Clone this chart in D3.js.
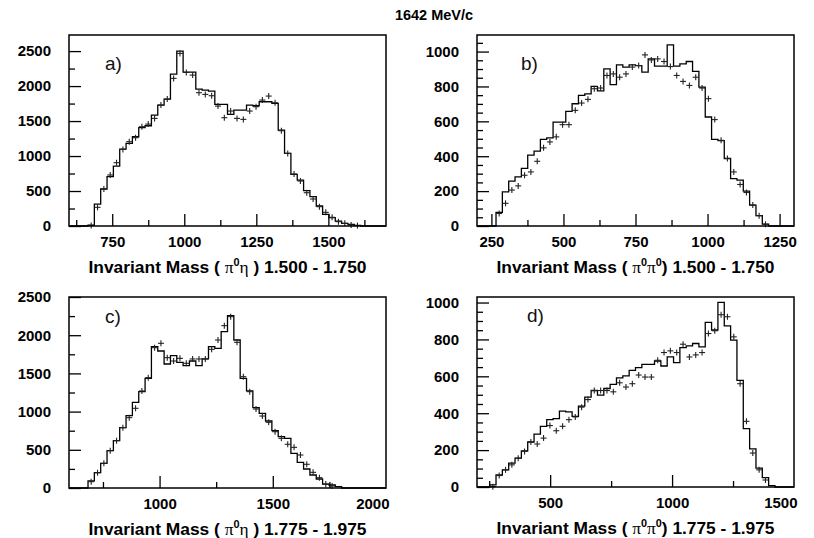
<!DOCTYPE html>
<html><head><meta charset="utf-8">
<script src="https://cdn.jsdelivr.net/npm/d3@7/dist/d3.min.js"></script>
<style>body{margin:0;background:#fff}svg{display:block}</style>
</head><body>
<svg id="chart" width="814" height="538"></svg>
<script>
// ---------- data ----------
const mainTitle = "1642 MeV/c";
const panelNames = ["a)", "b)", "c)", "d)"];
const titleRanges = ["1.500 - 1.750", "1.500 - 1.750", "1.775 - 1.975", "1.775 - 1.975"];
const titleParticles = [["π", "η"], ["π", "π"], ["π", "η"], ["π", "π"]];

const xDomainA = [600, 1700], xDomainB = [200, 1300], xDomainC = [600, 2000], xDomainD = [200, 1500];
const yMaxA = 2730, yMaxB = 1095, yMaxC = 2500, yMaxD = 1030;

const xLabelsA = [750, 1000, 1250, 1500];
const xLabelsB = [250, 500, 750, 1000, 1250];
const xLabelsC = [1000, 1500, 2000];
const xLabelsD = [500, 1000, 1500];
const xMinorA = [625, 875, 1125, 1375, 1625];
const xMinorB = [375, 625, 875, 1125];
const xMinorC = [750, 1250, 1750];
const xMinorD = [250, 750, 1250];

const yLabelsA = [0, 500, 1000, 1500, 2000, 2500];
const yLabelsB = [0, 200, 400, 600, 800, 1000];
const yLabelsC = [0, 500, 1000, 1500, 2000, 2500];
const yLabelsD = [0, 200, 400, 600, 800, 1000];
const yMinorStepA = 250, yMinorStepB = 50, yMinorStepC = 250, yMinorStepD = 50;

// histogram (simulation), 50 bins spanning the x range
const histA = [0,0,0,12,314,529,705,857,1100,1181,1276,1405,1433,1586,1729,1814,2171,2500,2200,2200,
  1957,1943,1928,1738,1738,1595,1657,1657,1729,1719,1776,1776,1752,1371,1038,738,657,505,419,286,
  167,119,71,38,24,10,0,0,0,0];
const dataA = [null,null,null,8,267,529,729,905,1095,1205,1262,1419,1457,1538,1729,1814,2110,2467,2195,2157,
  1905,1881,1862,1714,1548,1643,1538,1524,1643,1705,1800,1857,1762,1362,1038,743,643,476,386,276,
  195,124,62,38,14,6,null,null,null,null];

const histB = [0,0,0,78,196,257,282,330,406,429,497,505,596,596,657,701,749,758,800,775,
  901,810,924,911,924,920,882,958,916,916,1038,916,930,943,886,796,625,497,490,387,
  272,263,200,120,59,11,0,0,0,0];
const dataB = [null,null,null,72,130,206,230,291,310,371,448,482,511,581,581,663,705,726,787,791,
  863,872,853,872,911,920,981,952,958,943,914,863,829,806,853,791,730,610,491,387,
  310,238,192,120,59,10,null,null,null,null];

const histC = [0,0,0,92,200,323,489,620,790,947,1121,1261,1435,1850,1793,1623,1732,1645,1601,1662,
  1601,1689,1850,1828,2046,2256,1937,1435,1270,1051,977,877,750,672,650,454,336,249,170,118,
  52,39,17,0,0,0,0,0,0,0];
const dataC = [null,null,null,83,200,323,489,620,790,921,1043,1270,1444,1837,1894,1706,1662,1697,1632,1689,
  1689,1689,1815,1937,2125,2243,1907,1457,1261,1034,942,860,737,650,572,532,432,310,205,135,
  52,26,null,null,null,null,null,null,null,null];

const histD = [0,0,11,65,93,129,156,196,244,287,329,365,371,411,407,383,438,487,523,498,
  534,556,592,602,632,647,665,665,683,656,705,674,756,765,778,760,892,851,1001,874,
  796,578,316,207,102,51,7,0,0,0];
const dataD = [null,null,2,62,93,120,156,193,244,233,265,333,305,329,365,380,433,474,523,523,
  523,516,565,542,560,607,596,596,687,729,738,729,774,705,716,729,832,847,934,923,
  814,560,356,184,93,38,null,null,null,null];

// ---------- layout ----------
const panels = [
  {name: panelNames[0], hist: histA, data: dataA, xd: xDomainA, ymax: yMaxA, xl: xLabelsA, xm: xMinorA, yl: yLabelsA, ys: yMinorStepA,
   part: titleParticles[0], range: titleRanges[0], box: [69, 386, 35, 226], lab: [105, 70]},
  {name: panelNames[1], hist: histB, data: dataB, xd: xDomainB, ymax: yMaxB, xl: xLabelsB, xm: xMinorB, yl: yLabelsB, ys: yMinorStepB,
   part: titleParticles[1], range: titleRanges[1], box: [477, 794, 35, 226], lab: [521, 70]},
  {name: panelNames[2], hist: histC, data: dataC, xd: xDomainC, ymax: yMaxC, xl: xLabelsC, xm: xMinorC, yl: yLabelsC, ys: yMinorStepC,
   part: titleParticles[2], range: titleRanges[2], box: [69, 386, 297, 488], lab: [105, 323]},
  {name: panelNames[3], hist: histD, data: dataD, xd: xDomainD, ymax: yMaxD, xl: xLabelsD, xm: xMinorD, yl: yLabelsD, ys: yMinorStepD,
   part: titleParticles[3], range: titleRanges[3], box: [477, 794, 297, 487], lab: [527, 322]}
];

const svg = d3.select("#chart");
const FONT = "'Liberation Sans', Arial, Helvetica, sans-serif";

svg.append("text").attr("x", 434).attr("y", 20).attr("text-anchor", "middle")
  .attr("font-family", FONT).attr("font-weight", "bold").attr("font-size", 14.5)
  .text(mainTitle);

panels.forEach(p => {
  const [x0, x1, y0, y1] = p.box;
  const x = d3.scaleLinear().domain(p.xd).range([x0, x1]);
  const y = d3.scaleLinear().domain([0, p.ymax]).range([y1, y0]);
  const g = svg.append("g");
  const nb = p.hist.length;
  const bw = (p.xd[1] - p.xd[0]) / nb;

  // histogram step line
  const pts = [[p.xd[0], 0]];
  p.hist.forEach((v, i) => {
    const lo = p.xd[0] + i * bw;
    pts.push([lo, v], [lo + bw, v]);
  });
  pts.push([p.xd[1], 0]);
  g.append("path").datum(pts)
    .attr("d", d3.line().x(d => x(d[0])).y(d => y(d[1])))
    .attr("fill", "none").attr("stroke", "#000").attr("stroke-width", 1.3);

  // data crosses
  const dd = p.data.map((v, i) => ({c: p.xd[0] + (i + 0.5) * bw, v})).filter(d => d.v !== null);
  const cr = g.append("g").attr("stroke", "#222").attr("stroke-width", 1.1);
  cr.selectAll("line.h").data(dd).join("line").attr("class", "h")
    .attr("x1", d => x(d.c) - 3).attr("x2", d => x(d.c) + 3)
    .attr("y1", d => y(d.v)).attr("y2", d => y(d.v));
  cr.selectAll("line.v").data(dd).join("line").attr("class", "v")
    .attr("x1", d => x(d.c)).attr("x2", d => x(d.c))
    .attr("y1", d => y(d.v) - 3).attr("y2", d => y(d.v) + 3);

  // x axis ticks (inward) and labels
  const xAxisMajor = d3.axisBottom(x).tickValues(p.xl.filter(v => v < p.xd[1])).tickSizeInner(-12).tickSizeOuter(0).tickFormat("");
  const xAxisMinor = d3.axisBottom(x).tickValues(p.xm).tickSizeInner(-6).tickSizeOuter(0).tickFormat("");
  [xAxisMajor, xAxisMinor].forEach(ax => {
    const a = g.append("g").attr("transform", `translate(0,${y1})`).call(ax);
    a.select(".domain").remove();
    a.selectAll("line").attr("stroke", "#000").attr("stroke-width", 1.3);
  });
  const xt = g.append("g").attr("transform", `translate(0,${y1})`)
    .call(d3.axisBottom(x).tickValues(p.xl).tickSize(0).tickPadding(10).tickFormat(d3.format("d")));
  xt.select(".domain").remove();
  xt.selectAll("text").attr("font-family", FONT).attr("font-weight", "bold").attr("font-size", 15).attr("fill", "#000");
  // a label sitting on the right edge is pulled inside the frame
  xt.selectAll(".tick").filter(d => d === p.xd[1]).select("text").attr("text-anchor", "end").attr("dx", 3);

  // y axis ticks
  const yMinor = d3.range(0, p.ymax, p.ys).filter(v => !p.yl.includes(v));
  const yAxisMajor = d3.axisLeft(y).tickValues(p.yl).tickSizeInner(-12).tickSizeOuter(0).tickFormat("");
  const yAxisMinor = d3.axisLeft(y).tickValues(yMinor).tickSizeInner(-6).tickSizeOuter(0).tickFormat("");
  [yAxisMajor, yAxisMinor].forEach(ax => {
    const a = g.append("g").attr("transform", `translate(${x0},0)`).call(ax);
    a.select(".domain").remove();
    a.selectAll("line").attr("stroke", "#000").attr("stroke-width", 1.3);
  });
  const yt = g.append("g").attr("transform", `translate(${x0 - 18},0)`)
    .call(d3.axisLeft(y).tickValues(p.yl).tickSize(0).tickPadding(0).tickFormat(d3.format("d")));
  yt.select(".domain").remove();
  yt.selectAll("text").attr("font-family", FONT).attr("font-weight", "bold").attr("font-size", 15).attr("fill", "#000");

  // frame
  g.append("rect").attr("x", x0).attr("y", y0).attr("width", x1 - x0).attr("height", y1 - y0)
    .attr("fill", "none").attr("stroke", "#000").attr("stroke-width", 1.5);

  // panel label
  g.append("text").attr("x", p.lab[0]).attr("y", p.lab[1])
    .attr("font-family", FONT).attr("font-size", 19).attr("fill", "#111").text(p.name);

  // axis title
  const t = g.append("text").attr("x", (x0 + x1) / 2).attr("y", y1 + 47).attr("text-anchor", "middle")
    .attr("font-family", FONT).attr("font-weight", "bold").attr("font-size", 16).attr("fill", "#000")
    .attr("textLength", 278).attr("lengthAdjust", "spacingAndGlyphs");
  t.append("tspan").text("Invariant Mass ( ");
  t.append("tspan").attr("font-family", "'Liberation Serif', serif").attr("font-weight", "normal").text(p.part[0]);
  t.append("tspan").attr("font-size", 10).attr("dy", -7).text("0");
  if (p.part[1] === "η") {
    t.append("tspan").attr("dy", 7).attr("font-family", "'Liberation Serif', serif").attr("font-weight", "normal").text("η");
    t.append("tspan").text(" ) " + p.range);
  } else {
    t.append("tspan").attr("dy", 7).attr("font-family", "'Liberation Serif', serif").attr("font-weight", "normal").text("π");
    t.append("tspan").attr("font-size", 10).attr("dy", -7).text("0");
    t.append("tspan").attr("dy", 7).text(") " + p.range);
  }
});
</script>
</body></html>
